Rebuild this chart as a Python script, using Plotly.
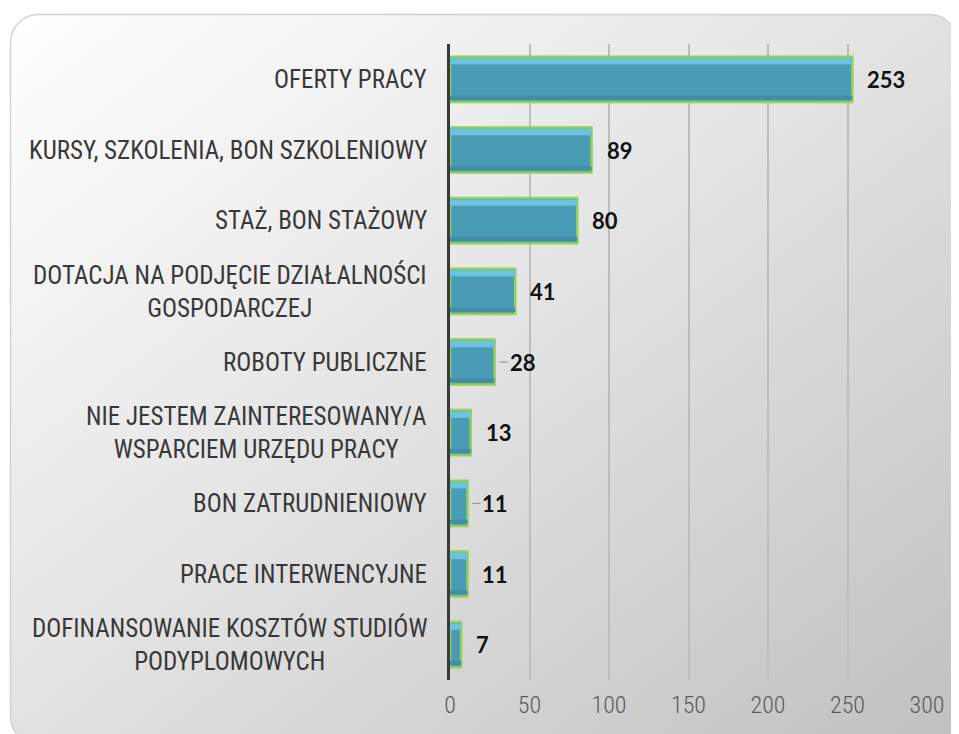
import base64
import plotly.graph_objects as go

categories = [
    "OFERTY PRACY",
    "KURSY, SZKOLENIA, BON SZKOLENIOWY",
    "STAŻ, BON STAŻOWY",
    "DOTACJA NA PODJĘCIE DZIAŁALNOŚCI<br>GOSPODARCZEJ",
    "ROBOTY PUBLICZNE",
    "NIE JESTEM ZAINTERESOWANY/A<br>WSPARCIEM URZĘDU PRACY",
    "BON ZATRUDNIENIOWY",
    "PRACE INTERWENCYJNE",
    "DOFINANSOWANIE KOSZTÓW STUDIÓW<br>PODYPLOMOWYCH",
]
values = [253, 89, 80, 41, 28, 13, 11, 11, 7]
leader = [False, False, False, False, True, False, True, False, False]
x_ticks = [0, 50, 100, 150, 200, 250, 300]

# page has an 8px body margin, so the figure is 8px smaller than the window
W, H = 951, 726
L, R, T, B = 442, 32, 36, 54
pw, ph = W - L - R, H - T - B
narrow = "Roboto Condensed, Liberation Sans Narrow, Arial Narrow, Roboto"

# rounded gradient background (Excel-like chart area)
svg = f"""<svg xmlns='http://www.w3.org/2000/svg' width='{W}' height='{H}' viewBox='0 0 {W} {H}'>
<defs><linearGradient id='g' x1='0' y1='0' x2='1' y2='1'>
<stop offset='0' stop-color='#ffffff'/><stop offset='0.45' stop-color='#e5e5e5'/>
<stop offset='1' stop-color='#c0c0c0'/></linearGradient></defs>
<rect x='2.5' y='6.5' width='947' height='730' rx='28' ry='28' fill='url(#g)' stroke='#d2d2d2' stroke-width='1.5'/>
</svg>"""
bg = "data:image/svg+xml;base64," + base64.b64encode(svg.encode()).decode()

fig = go.Figure()
fig.add_trace(go.Bar(
    x=values, y=categories, orientation="h",
    marker=dict(color="#4a9cb6", line=dict(color="#8fd055", width=2.5)),
    width=0.64, hoverinfo="x+y",
))
# bevel look: light strip on top, darker strip at the bottom
fig.add_trace(go.Bar(
    x=values, y=categories, orientation="h", width=0.09, offset=-0.3,
    marker=dict(color="#6cc4dc", line=dict(width=0)), hoverinfo="skip",
))
fig.add_trace(go.Bar(
    x=values, y=categories, orientation="h", width=0.06, offset=0.23,
    marker=dict(color="#438ea6", line=dict(width=0)), hoverinfo="skip",
))

annotations = []
for cat, v, ld in zip(categories, values, leader):
    annotations.append(dict(
        x=v, y=cat, xref="x", yref="y", text=str(v),
        showarrow=True, arrowhead=0, arrowwidth=1,
        arrowcolor="#8c8c8c" if ld else "rgba(0,0,0,0)",
        ax=13, ay=0, xanchor="left", standoff=5,
        font=dict(family="Lato, Open Sans", size=22, color="#111111", weight="bold"),
    ))
    annotations.append(dict(
        x=-21 / pw, y=cat, xref="paper", yref="y", text=cat,
        showarrow=False, xanchor="right", align="center",
        font=dict(family=narrow, size=25, color="#383838"),
    ))

fig.update_layout(
    width=W, height=H,
    margin=dict(l=L, r=R, t=T, b=B),
    paper_bgcolor="white", plot_bgcolor="rgba(0,0,0,0)",
    showlegend=False, barmode="overlay",
    annotations=annotations,
    images=[dict(source=bg, xref="paper", yref="paper",
                 x=-L / pw, y=1 + T / ph, sizex=W / pw, sizey=H / ph,
                 xanchor="left", yanchor="top", sizing="stretch", layer="below")],
    xaxis=dict(range=[0, 300], tickvals=x_ticks, showgrid=True,
               gridcolor="#bdbdbd", gridwidth=1.5, zeroline=False,
               tickfont=dict(family=narrow, size=24, color="#5a5a5a", weight=300),
               ticks="", ticklabelstandoff=8, fixedrange=True),
    yaxis=dict(autorange="reversed", showticklabels=False, showgrid=False,
               showline=True, linecolor="#3a3a3a", linewidth=3, ticks="",
               fixedrange=True),
)

fig.write_html("out.html")
